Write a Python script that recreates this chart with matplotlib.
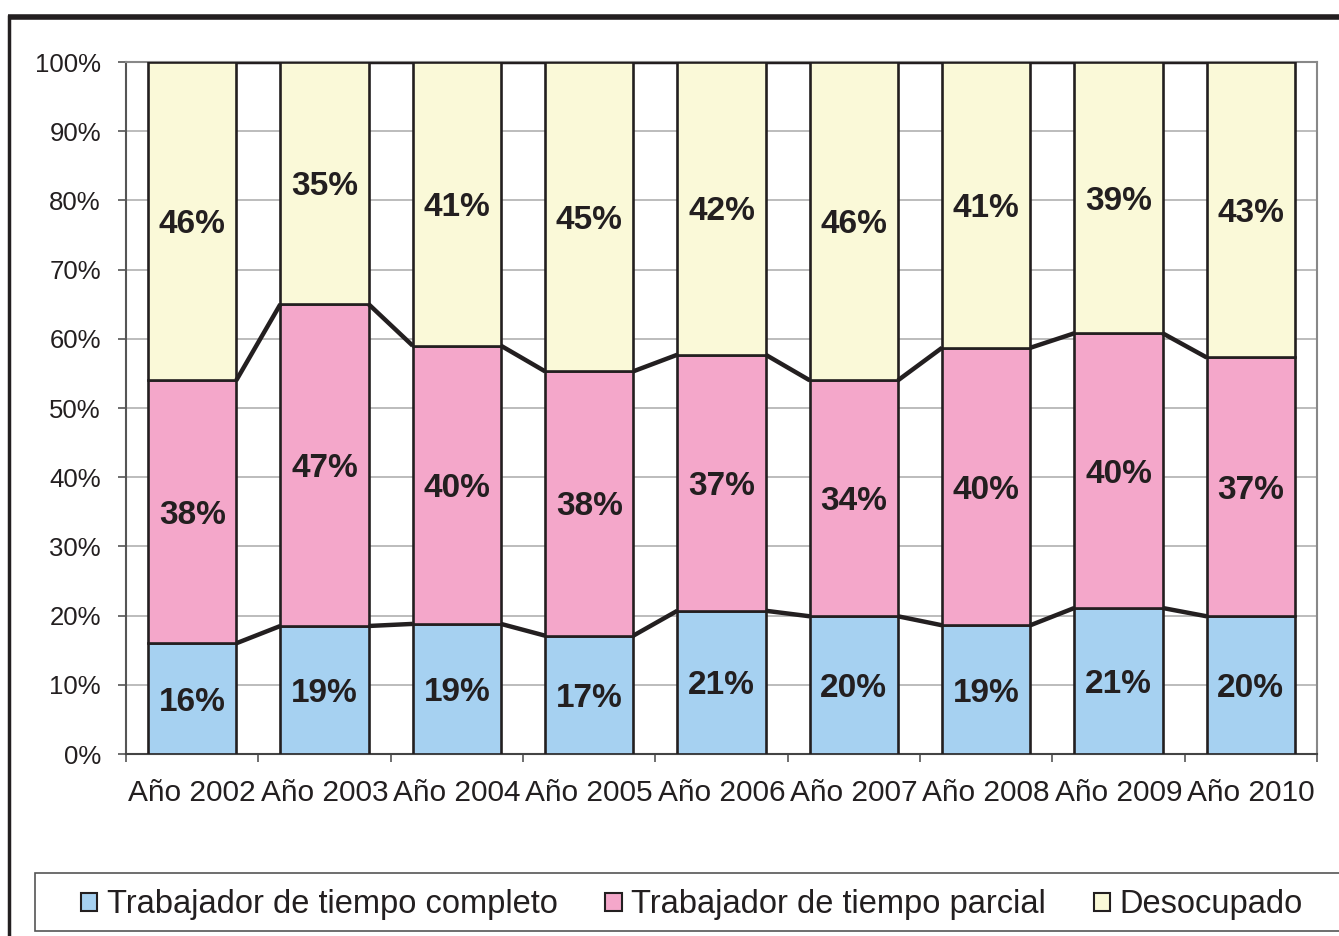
import matplotlib
matplotlib.use("Agg")
import matplotlib.pyplot as plt
import numpy as np
from matplotlib.lines import Line2D
from matplotlib.patches import Rectangle, Patch

plt.rcParams['font.family'] = ['Liberation Sans', 'DejaVu Sans']

# data (percent of total)
years = ['Año 2002', 'Año 2003', 'Año 2004', 'Año 2005', 'Año 2006',
         'Año 2007', 'Año 2008', 'Año 2009', 'Año 2010']
completo = [16.0, 18.5, 18.8, 17.1, 20.7, 19.9, 18.6, 21.1, 19.9]
parcial = [38.0, 46.5, 40.2, 38.2, 37.0, 34.1, 40.1, 39.7, 37.4]
desocupado = [46.0, 35.0, 41.0, 44.7, 42.3, 46.0, 41.3, 39.2, 42.7]
series_names = ['Trabajador de tiempo completo', 'Trabajador de tiempo parcial', 'Desocupado']
colors = ['#A6D1F1', '#F4A7CA', '#FAF9D8']
edge = '#231F20'

W, H = 1339, 936
fig = plt.figure(figsize=(W / 100, H / 100), dpi=100)
ax = fig.add_axes([126 / W, (H - 754) / H, (1317 - 126) / W, (754 - 62) / H])

x = np.arange(len(years))
width = 0.667
data = [np.array(completo), np.array(parcial), np.array(desocupado)]
bottom = np.zeros(len(years))
for vals, c in zip(data, colors):
    ax.bar(x, vals, width, bottom=bottom, color=c, edgecolor=edge, linewidth=1.9, zorder=3)
    for xi, v, b in zip(x, vals, bottom):
        lab = '%d%%' % int(np.floor(v + 0.5))
        ax.text(xi, b + v / 2, lab, ha='center', va='center_baseline', fontsize=24,
                fontweight='bold', color=edge, zorder=5)
    bottom = bottom + vals
    # series lines between bars
    for i in range(len(years) - 1):
        ax.plot([x[i] + width / 2, x[i + 1] - width / 2], [bottom[i], bottom[i + 1]],
                color=edge, lw=3.2, zorder=4, solid_capstyle='butt')

ax.set_xlim(-0.5, len(years) - 0.5)
ax.set_ylim(0, 100)
ax.set_yticks(np.arange(0, 101, 10))
ax.set_yticklabels(['%d%%' % v for v in range(0, 101, 10)])
ax.set_xticks(x)
ax.set_xticklabels(years)
ax.set_xticks(np.arange(-0.5, len(years), 1), minor=True)
ax.tick_params(axis='x', which='major', length=0, pad=18, labelsize=21.5, colors='#231F20')
ax.tick_params(axis='x', which='minor', length=6, width=1.2, color='#555555')
ax.tick_params(axis='y', length=6, width=1.2, color='#555555', pad=12, labelsize=18.5, labelcolor='#231F20')
ax.grid(axis='y', color='#B0B0B0', lw=1.2, zorder=0)
for s in ['top', 'right']:
    ax.spines[s].set_color('#888888')
    ax.spines[s].set_linewidth(1.5)
ax.spines['left'].set_color('#555555')
ax.spines['left'].set_linewidth(1.5)
ax.spines['bottom'].set_color('#444444')
ax.spines['bottom'].set_linewidth(1.5)

# outer frame (top and left edges visible)
fig.add_artist(Line2D([8 / W, 1], [(H - 17) / H, (H - 17) / H], transform=fig.transFigure,
                      color=edge, lw=4, solid_capstyle='butt'))
fig.add_artist(Line2D([9 / W, 9 / W], [0, (H - 15) / H], transform=fig.transFigure,
                      color=edge, lw=2.5, solid_capstyle='butt'))

# legend box
fig.add_artist(Rectangle((35 / W, (H - 931) / H), 1.0, 58 / H, transform=fig.transFigure,
                         facecolor='white', edgecolor='#555555', lw=1.2))
handles = [Patch(facecolor=c, edgecolor=edge, lw=1.5) for c in colors]
fig.legend(handles, series_names, loc='center', bbox_to_anchor=(692 / W, (H - 905) / H),
           ncol=3, frameon=False, fontsize=23.5, handlelength=0.5, handleheight=0.5,
           handletextpad=0.3, columnspacing=1.45, labelcolor='#231F20')

fig.savefig('out.png', dpi=100)
